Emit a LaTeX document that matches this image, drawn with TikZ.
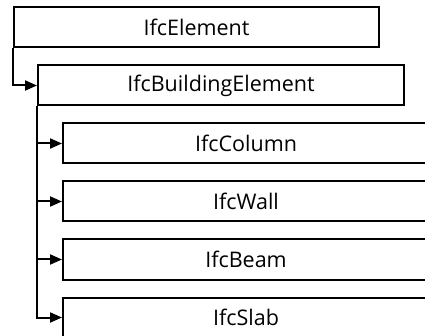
\documentclass[tikz,border=0pt]{standalone}
\usepackage{fontspec}
\setmainfont{Open Sans}
\usetikzlibrary{arrows.meta}
\begin{document}
\begin{tikzpicture}[x=1pt,y=-1pt,
  box/.style={draw=black, line width=2pt, fill=white, anchor=north west,
    minimum height=40pt, inner sep=0pt, font=\fontsize{21.5}{25}\selectfont},
  conn/.style={line width=2pt, -{Triangle[length=12pt,width=10pt]}}]
\useasboundingbox (0,0) rectangle (425,336);
\clip (0,0) rectangle (425,336);
\fill[white] (0,0) rectangle (425,336);
\node[box, minimum width=365pt] (e) at (13,6.5) {IfcElement};
\node[box, minimum width=366pt] (be) at (37,64.5) {IfcBuildingElement};
\node[box, minimum width=366pt] (col) at (62,122.5) {IfcColumn};
\node[box, minimum width=366pt] (wall) at (62,180.5) {IfcWall};
\node[box, minimum width=366pt] (beam) at (62,238.5) {IfcBeam};
\node[box, minimum width=366pt] (slab) at (62,296.5) {IfcSlab};
\draw[conn] (e.south west) |- (be.west);
\draw[line width=2pt] (be.south west) -- (be.south west |- slab.west);
\draw[conn] (be.south west) |- (col.west);
\draw[conn] (be.south west) |- (wall.west);
\draw[conn] (be.south west) |- (beam.west);
\draw[conn] (be.south west) |- (slab.west);
\end{tikzpicture}
\end{document}
